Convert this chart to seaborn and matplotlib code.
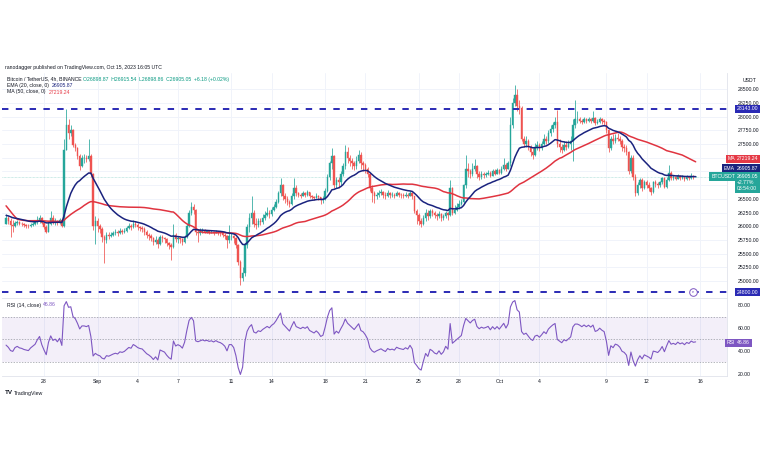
import numpy as np
import pandas as pd
import matplotlib
matplotlib.use("Agg")
import matplotlib.pyplot as plt
import seaborn as sns

W, H = 768, 463
sns.set_theme(style="white")
plt.rcParams['font.family'] = ['Liberation Sans', 'DejaVu Sans']

# ---------------- data ----------------
# hidden 4h closes before the visible window (Aug 16 20:00 - Aug 25 00:00), only used to seed indicators
warmup_close = [28750,
    28700, 28600, 28500, 28400, 28200, 26600,
    26400, 26300, 26100, 26200, 26000, 26050,
    26100, 26050, 26150, 26100, 26150, 26100,
    26150, 26100, 26150, 26200, 26150, 26180,
    26100, 26000, 25950, 26050, 26100, 26050,
    26050, 26000, 25950, 25850, 25700, 25900,
    26000, 26050, 26100, 26400, 26500, 26450,
    26400, 26450, 26350, 26200, 26150, 26100,
    26050]

# visible BTCUSDT 4h candles, Aug 25 04:00 -> Oct 15 16:00 (one day per row)
close_vals = [
    26150, 26100, 26020, 26000, 26060,
    26080, 26050, 26040, 26020, 26010, 26000,
    26030, 26050, 26070, 26120, 26160, 26060,
    25980, 25900, 26050, 26150, 26080, 26100,
    26060, 26110, 26000, 27400, 27850, 27700,
    27750, 27480, 27420, 27280, 27100, 27250,
    27250, 27230, 27280, 26950, 26000, 26100,
    26000, 25950, 25800, 25750, 25850, 25820,
    25850, 25880, 25900, 25870, 25920, 25900,
    25920, 25960, 26000, 25980, 26050, 26020,
    25980, 25960, 25950, 25900, 25850, 25820,
    25780, 25720, 25750, 25680, 25800, 25780,
    25760, 25700, 25650, 25620, 25850, 25760,
    25780, 25760, 25720, 25800, 26000, 26250,
    26350, 26300, 25900, 25880, 25900, 25920,
    25900, 25910, 25890, 25900, 25880, 25900,
    25880, 25870, 25850, 25820, 25750, 25820,
    25820, 25780, 25650, 25350, 25050, 25150,
    25650, 25980, 26150, 26250, 26050, 26020,
    26100, 26080, 26150, 26200, 26250, 26220,
    26300, 26350, 26450, 26600, 26750, 26550,
    26500, 26450, 26400, 26550, 26700, 26600,
    26580, 26560, 26600, 26580, 26620, 26560,
    26540, 26520, 26560, 26530, 26480, 26500,
    26650, 26900, 27150, 27280, 26750, 26850,
    26800, 26950, 27100, 27350, 27250, 27200,
    27150, 27100, 27200, 27300, 27150, 27120,
    27050, 26950, 26700, 26600, 26550, 26580,
    26600, 26620, 26580, 26550, 26600, 26570,
    26580, 26560, 26600, 26580, 26570, 26560,
    26580, 26560, 26600, 26550, 26280, 26200,
    26100, 26050, 26150, 26250, 26180, 26280,
    26250, 26200, 26180, 26220, 26150, 26180,
    26250, 26200, 26700, 26250, 26300, 26350,
    26400, 26450, 26750, 27050, 27000, 26950,
    27050, 27100, 26950, 26900, 26950, 26930,
    26950, 26980, 26920, 27000, 26960, 27020,
    26980, 27050, 27120, 27050, 27150, 27850,
    28250, 28400, 28200, 28150, 27600, 27500,
    27550, 27450, 27350, 27300, 27450, 27480,
    27420, 27500, 27600, 27550, 27700, 27780,
    27850, 27900, 27500, 27450, 27400, 27480,
    27450, 27500, 27550, 27850, 27950, 27950,
    27930, 27900, 27950, 27920, 27960, 27930,
    27980, 27880, 27900, 27950, 27920, 27900,
    27750, 27420, 27600, 27550, 27620, 27600,
    27550, 27450, 27420, 27350, 27000, 27250,
    26900, 26600, 26750, 26850, 26700, 26800,
    26750, 26700, 26620, 26800, 26780, 26750,
    26800, 26880, 26720, 26850, 26980, 26880,
    26900, 26870, 26920, 26880, 26900, 26860,
    26900, 26880, 26920, 26898.87, 26905.05]

high_vals = [
    26220, 26180, 26150, 26120, 26100,
    26110, 26090, 26070, 26060, 26050, 26040,
    26060, 26080, 26100, 26180, 26200, 26170,
    26080, 26030, 26100, 26280, 26200, 26150,
    26120, 26150, 26120, 27600, 28140, 27950,
    27850, 27780, 27520, 27450, 27320, 27300,
    27320, 27300, 27600, 27320, 26980, 26180,
    26150, 26050, 25980, 25850, 25900, 25900,
    25900, 25920, 25950, 25930, 25960, 25950,
    25960, 26000, 26060, 26050, 26120, 26100,
    26060, 26010, 26000, 25980, 25930, 25880,
    25860, 25800, 25820, 25780, 25850, 25840,
    25800, 25780, 25720, 25700, 26040, 25880,
    25820, 25800, 25790, 25850, 26050, 26300,
    26450, 26400, 26320, 25950, 25960, 25960,
    25950, 25940, 25930, 25940, 25920, 25930,
    25920, 25910, 25890, 25870, 25850, 26030,
    25880, 25850, 25800, 25680, 25380, 25250,
    25700, 26050, 26250, 26550, 26300, 26150,
    26150, 26160, 26220, 26280, 26350, 26300,
    26350, 26400, 26500, 26650, 26880, 26780,
    26600, 26550, 26480, 26600, 26880, 26750,
    26620, 26610, 26640, 26630, 26660, 26630,
    26580, 26560, 26600, 26580, 26540, 26550,
    26700, 26950, 27200, 27430, 27300, 26900,
    26900, 27000, 27150, 27490, 27450, 27300,
    27250, 27200, 27280, 27400, 27350, 27200,
    27150, 27080, 26980, 26750, 26650, 26620,
    26660, 26680, 26650, 26620, 26660, 26620,
    26620, 26610, 26640, 26630, 26610, 26600,
    26620, 26610, 26640, 26620, 26560, 26320,
    26250, 26150, 26200, 26320, 26300, 26320,
    26320, 26280, 26250, 26280, 26250, 26230,
    26280, 26260, 26850, 26720, 26380, 26420,
    26480, 26500, 26780, 27300, 27150, 27050,
    27150, 27220, 27120, 27000, 27010, 26990,
    26990, 27020, 27010, 27050, 27040, 27060,
    27040, 27100, 27240, 27150, 27200, 28000,
    28350, 28580, 28500, 28300, 28200, 27650,
    27650, 27600, 27480, 27420, 27520, 27550,
    27520, 27560, 27680, 27650, 27750, 27850,
    27900, 28000, 28130, 27600, 27500, 27550,
    27550, 27580, 27650, 27950, 28300, 28100,
    27990, 27950, 27990, 27970, 28000, 27980,
    28100, 28000, 27950, 28000, 27980, 27960,
    27920, 27780, 27650, 27680, 27680, 27700,
    27650, 27600, 27500, 27480, 27380, 27300,
    27300, 26950, 26800, 26880, 26880, 26850,
    26850, 26800, 26720, 26830, 26850, 26800,
    26830, 26900, 26900, 26900, 27120, 27000,
    26940, 26920, 26950, 26930, 26940, 26920,
    26940, 26920, 26970, 26940, 26915.54]

low_vals = [
    26080, 26040, 25800, 25900, 25980,
    26030, 26020, 26000, 25980, 25970, 25960,
    25990, 26000, 26020, 26050, 26060, 26040,
    25950, 25870, 25900, 26030, 26050, 26020,
    26030, 26040, 25980, 25990, 27400, 27600,
    27650, 27450, 27380, 27230, 27030, 27080,
    27150, 27180, 27200, 26900, 25930, 25680,
    25900, 25880, 25720, 25330, 25700, 25760,
    25800, 25830, 25850, 25830, 25860, 25860,
    25880, 25900, 25950, 25930, 25960, 25980,
    25940, 25920, 25900, 25840, 25780, 25750,
    25730, 25650, 25680, 25600, 25660, 25720,
    25700, 25640, 25580, 25380, 25600, 25720,
    25700, 25700, 25650, 25700, 25780, 25980,
    26200, 26230, 25850, 25720, 25850, 25870,
    25870, 25880, 25860, 25870, 25850, 25870,
    25850, 25820, 25800, 25760, 25600, 25700,
    25750, 25700, 25600, 25300, 24930, 25000,
    25100, 25600, 25900, 26050, 25980, 25950,
    25980, 26020, 26050, 26120, 26180, 26150,
    26180, 26280, 26330, 26420, 26550, 26480,
    26420, 26380, 26350, 26380, 26500, 26550,
    26540, 26520, 26550, 26540, 26560, 26520,
    26500, 26480, 26510, 26480, 26400, 26420,
    26480, 26620, 26850, 27050, 26700, 26700,
    26700, 26750, 26920, 27050, 27150, 27100,
    27050, 27020, 27050, 27150, 27050, 27000,
    26980, 26900, 26650, 26450, 26420, 26500,
    26540, 26570, 26520, 26500, 26530, 26520,
    26540, 26520, 26550, 26540, 26520, 26510,
    26530, 26520, 26550, 26500, 26250, 26050,
    26020, 25990, 26030, 26100, 26120, 26150,
    26180, 26150, 26120, 26150, 26100, 26120,
    26150, 26120, 26180, 26200, 26220, 26280,
    26320, 26380, 26430, 26700, 26900, 26880,
    26920, 27000, 26880, 26850, 26870, 26880,
    26900, 26930, 26900, 26950, 26940, 26970,
    26950, 26960, 27030, 27000, 27040, 27100,
    27800, 28200, 28100, 28050, 27550, 27450,
    27450, 27400, 27280, 27220, 27280, 27400,
    27380, 27400, 27480, 27500, 27520, 27650,
    27720, 27800, 27450, 27350, 27330, 27380,
    27400, 27420, 27400, 27200, 27800, 27880,
    27880, 27860, 27880, 27880, 27900, 27890,
    27900, 27850, 27860, 27880, 27870, 27850,
    27700, 27350, 27400, 27500, 27520, 27550,
    27500, 27380, 27350, 27300, 26950, 26980,
    26850, 26550, 26580, 26700, 26650, 26680,
    26700, 26640, 26580, 26600, 26720, 26700,
    26720, 26780, 26700, 26700, 26820, 26850,
    26850, 26840, 26860, 26850, 26860, 26830,
    26850, 26840, 26870, 26860, 26898.86]

assert len(close_vals) == len(high_vals) == len(low_vals) == 310

resistance_level = 28143.00
support_level = 24800.00
price_ticks = [25000, 25250, 25500, 25750, 26000, 26250, 26500, 26750,
               27000, 27250, 27500, 27750, 28000, 28250, 28500]
hidden_price_ticks = [26750, 27000, 27250]   # covered by the price tags on the scale
rsi_ticks = [20, 40, 60, 80]
tick_days = [0, 4, 7, 10, 14, 17, 21, 24, 28, 31, 34, 37, 42, 45, 49]
tick_labels = ["28", "Sep", "4", "7", "11", "14", "18", "21", "25", "28",
               "Oct", "4", "9", "12", "16"]
event_day = 48.45

# ---------------- derived ----------------
times = pd.date_range("2023-08-25 04:00", periods=len(close_vals), freq="4h")
t = np.asarray((times - pd.Timestamp("2023-08-28")) / pd.Timedelta(days=1), dtype=float)
c = np.array(close_vals, float)
o = np.r_[warmup_close[-1], c[:-1]]
hi = np.maximum(np.array(high_vals, float), np.maximum(o, c))
lo = np.minimum(np.array(low_vals, float), np.minimum(o, c))

full = pd.Series(warmup_close + close_vals, dtype=float)
nw = len(warmup_close)
ema = full.ewm(span=20, adjust=False).mean().values[nw:]
ma = full.rolling(50).mean().values[nw:]
d = full.diff()
ag = d.clip(lower=0).ewm(alpha=1/14, adjust=False).mean()
al = (-d.clip(upper=0)).ewm(alpha=1/14, adjust=False).mean()
rsi = (100 - 100 / (1 + ag / al)).values[nw:]

# ---------------- figure ----------------
fig = plt.figure(figsize=(W/100, H/100), dpi=100)
fig.patch.set_facecolor("white")

def fx(px):
    return px / W

def fy(py):
    return 1 - py / H

L, R = 2, 727
ax = fig.add_axes([fx(L), fy(298), fx(R - L), (298 - 73) / H])
ax2 = fig.add_axes([fx(L), fy(376), fx(R - L), (376 - 299) / H], sharex=ax)

x0, ppd = 44.0, 13.39
ax.set_xlim((L - x0) / ppd, (R - x0) / ppd)
ax.set_ylim(28500 - (298 - 89.3) * 18.25, 28500 + (89.3 - 73) * 18.25)
ax2.set_ylim(50 - (376 - 339.3) / 1.14, 50 + (339.3 - 299) / 1.14)

GRID = "#f0f3fa"
TXT = "#131722"
GREEN, RED = "#26a69a", "#ef5350"
NAVY, MARED = "#1a237e", "#e53945"
BLUE = "#2a2ab4"
PURPLE = "#7e57c2"
FS = 3.7

for a in (ax, ax2):
    a.set_facecolor("white")
    a.set_xticks(tick_days)
    a.grid(axis="x", color=GRID, lw=0.7)
    for s in ("left", "top"):
        a.spines[s].set_visible(False)
    for s in ("right", "bottom"):
        a.spines[s].set_color("#e0e3eb")
        a.spines[s].set_linewidth(0.6)
    a.yaxis.tick_right()
    a.tick_params(axis="y", length=0, pad=8, labelsize=FS, colors=TXT)
    a.set_axisbelow(True)

ax.set_yticks(price_ticks)
ax.set_yticklabels(["" if v in hidden_price_ticks else f"{v:.2f}" for v in price_ticks])
ax.grid(axis="y", color=GRID, lw=0.7)
ax.tick_params(axis="x", length=0, labelbottom=False)

ax2.set_yticks(rsi_ticks)
ax2.set_yticklabels([f"{v:.2f}" for v in rsi_ticks])
ax2.set_xticklabels(tick_labels)
ax2.tick_params(axis="x", length=0, pad=2.5, labelsize=FS, colors=TXT)

# candles
col = np.where(c >= o, GREEN, RED)
ax.vlines(t, lo, hi, colors=col, linewidth=0.55, zorder=2)
ax.bar(t, c - o, bottom=o, width=0.11, color=col, edgecolor=col, linewidth=0.3, zorder=3)

# indicators
sns.lineplot(x=t, y=ma, ax=ax, color="#e03440", linewidth=1.1, legend=False, zorder=4)
sns.lineplot(x=t, y=ema, ax=ax, color=NAVY, linewidth=1.1, legend=False, zorder=5)

# key levels
ax.axhline(resistance_level, color=BLUE, lw=1.4, ls=(0, (3.3, 3.8)), zorder=6)
ax.axhline(support_level, color=BLUE, lw=1.4, ls=(0, (3.3, 3.8)), zorder=6)
ax.axhline(c[-1], color="#9fd9d2", lw=0.5, ls=(0, (1, 1)), zorder=1)
ax.plot([event_day], [support_level], marker="o", ms=5.5, mfc="white", mec=PURPLE, mew=0.7, zorder=7)
ax.text(event_day, support_level, "e", fontsize=3, color=PURPLE, ha="center", va="center", zorder=8)

# RSI pane
ax2.axhspan(30, 70, color=PURPLE, alpha=0.09, lw=0)
for lvl in (30, 50, 70):
    ax2.axhline(lvl, color="#9598a1", lw=0.5, ls=(0, (2, 2)))
sns.lineplot(x=t, y=rsi, ax=ax2, color=PURPLE, linewidth=0.8, legend=False)

# ---------------- texts ----------------
def ft(x, y, s, **kw):
    kw.setdefault("fontsize", FS)
    kw.setdefault("color", TXT)
    fig.text(fx(x), fy(y), s, va="center", **kw)

def box(x, y, s, fc, ha="left", fs=FS, pad=0.35):
    fig.text(fx(x), fy(y), s, ha=ha, va="center", fontsize=fs, color="white",
             bbox=dict(boxstyle=f"square,pad={pad}", fc=fc, ec="none"), zorder=10)

ft(5, 67, "ranodagger published on TradingView.com, Oct 15, 2023 16:05 UTC")
ft(7, 79, "Bitcoin / TetherUS, 4h, BINANCE")
ft(83, 79, "O26898.87  H26915.54  L26898.86  C26905.05  +6.18 (+0.02%)", color="#089981")
ft(7, 85.5, "EMA (20, close, 0)")
ft(52, 85.5, "26905.87", color=NAVY)
ft(7, 92, "MA (50, close, 0)")
ft(49, 92, "27219.24", color=MARED)
ft(743, 80, "USDT")
ft(7, 305, "RSI (14, close)")
ft(43, 305, "46.86", color=PURPLE)
ft(5, 393, "TV", fontsize=4.5, fontweight="bold")
ft(14, 393, "TradingView", fontsize=3.8)

box(737, 109, "28143.00", BLUE)
box(737, 292, "24800.00", BLUE)
box(735, 159, "MA", MARED, ha="right")
box(737, 159, "27219.24", MARED)
box(735, 168.5, "EMA", NAVY, ha="right")
box(737, 168.5, "26905.87", NAVY)
box(735, 176.7, "BTCUSDT", GREEN, ha="right")
box(737, 182.5, "26905.05\n+2.77%\n03:54:00", GREEN)
box(735, 342.9, "RSI", PURPLE, ha="right")
box(737, 342.9, "46.86", PURPLE)

fig.savefig("out.png", dpi=100, facecolor="white")
